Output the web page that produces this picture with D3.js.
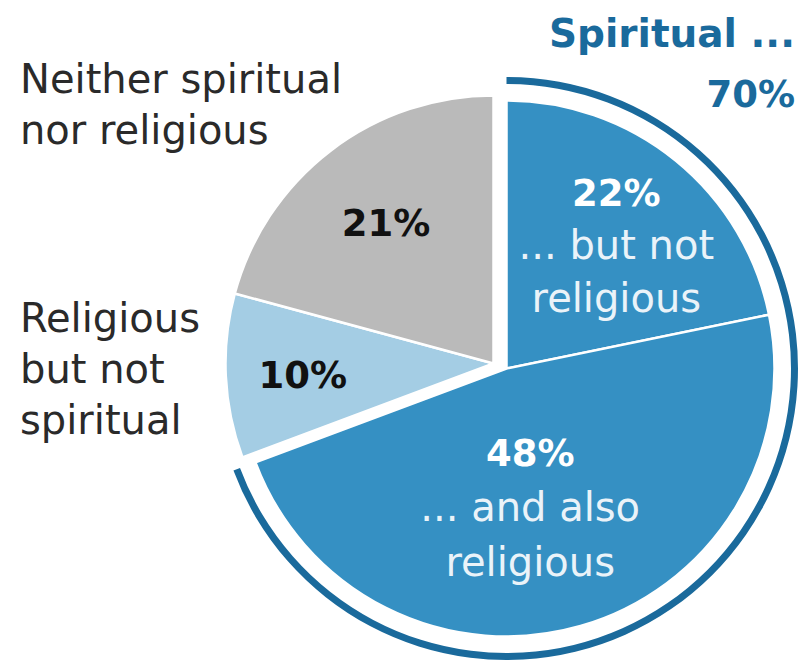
<!DOCTYPE html>
<html>
<head>
<meta charset="utf-8">
<script src="https://cdn.jsdelivr.net/npm/d3@7"></script>
<style>
  body { margin: 0; background: #fff; }
  text { font-family: "DejaVu Sans", sans-serif; }
</style>
</head>
<body>
<div id="chart"></div>
<script>
"use strict";

// data
const categories = ["Spiritual but not religious", "Spiritual and religious", "Religious but not spiritual", "Neither spiritual nor religious"];
const values = [22, 48, 10, 21];
const groups = ["spiritual", "spiritual", "other", "other"];
const colors = ["#3590c3", "#3590c3", "#a4cde4", "#bababa"];
const sliceText = [
    ["22%", "... but not", "religious"],
    ["48%", "... and also", "religious"],
    ["10%"],
    ["21%"]
];
const sideLabels = [
    ["Neither spiritual", "nor religious"],
    ["Religious", "but not", "spiritual"]
];
const headline = "Spiritual ...";

const msm = {
    width: 806,
    height: 672,
    cx: 500,
    cy: 366,
    radius: 268,
    ringRadius: 288,
    ringWidth: 7,
    lineHeight: 54
};
// small shift of each group away from the other (exploded look)
const groupShift = {
    spiritual: [6.5, 2.5],
    other: [-6.5, -2.5]
};
// label radius and nudge for each slice
const labelLayout = [
    { r: 158, dx: 10, dy: 0, lh: 53 },
    { r: 140, dx: -15, dy: 5, lh: 55 },
    { r: 191, dx: 0, dy: 3, lh: 54 },
    { r: 177, dx: 0, dy: 0, lh: 54 }
];

let svgContainer = d3.select("#chart")
    .append("svg")
    .attr("width", msm.width)
    .attr("height", msm.height);

let pie = d3.pie().sort(null).value((d) => d.value);
let rows = categories.map((c, i) => ({ category: c, value: values[i], group: groups[i], color: colors[i], lines: sliceText[i], idx: i }));
let arcs = pie(rows);

let arc = d3.arc().innerRadius(0).outerRadius(msm.radius);

let slices = svgContainer.selectAll(".slice")
    .data(arcs)
    .enter()
    .append("g")
    .attr("class", "slice")
    .attr("transform", (d) => {
        let s = groupShift[d.data.group];
        return "translate(" + (msm.cx + s[0]) + "," + (msm.cy + s[1]) + ")";
    });

slices.append("path")
    .attr("d", arc)
    .attr("fill", (d) => d.data.color)
    .attr("stroke", "#fff")
    .attr("stroke-width", 2.5)
    .attr("stroke-linejoin", "round");

// outer ring around the spiritual slices
let spiritualArcs = arcs.filter((d) => d.data.group == "spiritual");
let ringEnd = d3.max(spiritualArcs, (d) => d.endAngle);
let ringStart = d3.min(spiritualArcs, (d) => d.startAngle);
let spiritualTotal = d3.sum(spiritualArcs, (d) => d.data.value);

svgContainer.append("path")
    .attr("transform", "translate(" + (msm.cx + groupShift.spiritual[0]) + "," + (msm.cy + groupShift.spiritual[1]) + ")")
    .attr("d", d3.arc()
        .innerRadius(msm.ringRadius - msm.ringWidth / 2)
        .outerRadius(msm.ringRadius + msm.ringWidth / 2)
        .startAngle(ringStart)
        .endAngle(ringEnd)())
    .attr("fill", "#1a6a9c");

// labels inside slices
slices.each(function (d) {
    let lay = labelLayout[d.data.idx];
    let c = d3.arc().innerRadius(lay.r).outerRadius(lay.r).centroid(d);
    let n = d.data.lines.length;
    let light = d.data.group == "spiritual";
    let t = d3.select(this).append("text")
        .attr("text-anchor", "middle")
        .attr("fill", light ? "#ffffff" : "#111111");
    d.data.lines.forEach((line, i) => {
        t.append("tspan")
            .attr("x", c[0] + lay.dx)
            .attr("y", c[1] + lay.dy + 13 + (i - (n - 1) / 2) * lay.lh)
            .style("font-size", i == 0 ? "37px" : "40px")
            .style("font-weight", i == 0 ? "bold" : "normal")
            .attr("fill", i == 0 ? null : "#eaf3f9")
            .text(line);
    });
});

// side labels
let sideTop = [93, 332];
sideLabels.forEach((lines, k) => {
    let t = svgContainer.append("text")
        .attr("fill", "#2a2a2a")
        .style("font-size", "40px");
    lines.forEach((line, i) => {
        t.append("tspan")
            .attr("x", 20)
            .attr("y", sideTop[k] + i * 51)
            .text(line);
    });
});

// headline
svgContainer.append("text")
    .attr("x", 795)
    .attr("y", 47)
    .attr("text-anchor", "end")
    .attr("fill", "#1a6a9c")
    .style("font-size", "39px")
    .style("font-weight", "bold")
    .text(headline);

svgContainer.append("text")
    .attr("x", 795)
    .attr("y", 107)
    .attr("text-anchor", "end")
    .attr("fill", "#1a6a9c")
    .style("font-size", "37px")
    .style("font-weight", "bold")
    .text(spiritualTotal + "%");
</script>
</body>
</html>
